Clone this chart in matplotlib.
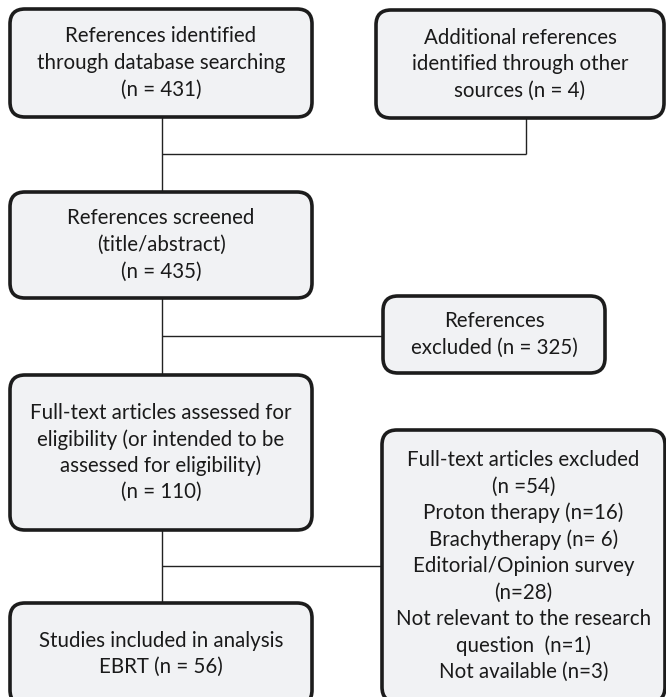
import matplotlib
matplotlib.use("Agg")
import matplotlib.pyplot as plt
from matplotlib.patches import FancyBboxPatch

W, H = 666, 697

# ---- content ----
box_texts = [
    ["References identified", "through database searching", "(n = 431)"],
    ["Additional references", "identified through other", "sources (n = 4)"],
    ["References screened", "(title/abstract)", "(n = 435)"],
    ["References", "excluded (n = 325)"],
    ["Full-text articles assessed for", "eligibility (or intended to be",
     "assessed for eligibility)", "(n = 110)"],
    ["Full-text articles excluded", "(n =54)", "Proton therapy (n=16)",
     "Brachytherapy (n= 6)", "Editorial/Opinion survey", "(n=28)",
     "Not relevant to the research", "question  (n=1)", "Not available (n=3)"],
    ["Studies included in analysis", "EBRT (n = 56)"],
]

# ---- layout (pixel units, y downward): x0, y0, x1, y1 ----
box_geom = [
    (10, 9, 312, 117),
    (376, 10, 664, 118),
    (10, 192, 312, 298),
    (383, 296, 605, 373),
    (10, 375, 312, 530),
    (382, 430, 665, 702),
    (10, 603, 312, 705),
]

fig = plt.figure(figsize=(W / 100, H / 100), dpi=100)
ax = fig.add_axes([0, 0, 1, 1])
ax.set_xlim(0, W)
ax.set_ylim(H, 0)
ax.axis("off")

FONT = "Lato"
FS = 14.8
LS = 26.5
line_kw = dict(color="#222222", lw=1.0, zorder=1, solid_capstyle="butt")

# connectors
cx = 161.5
ax.plot([cx, cx], [117, 192], **line_kw)
ax.plot([526, 526], [118, 154], **line_kw)
ax.plot([cx, 526], [154, 154], **line_kw)
ax.plot([cx, cx], [298, 375], **line_kw)
ax.plot([cx, 383], [336, 336], **line_kw)
ax.plot([cx, cx], [530, 603], **line_kw)
ax.plot([cx, 382], [566, 566], **line_kw)

for (x0, y0, x1, y1), lines in zip(box_geom, box_texts):
    p = FancyBboxPatch((x0, y0), x1 - x0, y1 - y0,
                       boxstyle="round,pad=0,rounding_size=15",
                       facecolor="#f1f2f4", edgecolor="#1c1c1c",
                       linewidth=2.6, zorder=2)
    ax.add_patch(p)
    xc = (x0 + x1) / 2
    yc = (y0 + y1) / 2
    n = len(lines)
    for i, t in enumerate(lines):
        y = yc + (i - (n - 1) / 2) * LS
        ax.text(xc, y, t, ha="center", va="center", fontsize=FS,
                family=FONT, color="#1a1a1a", zorder=3)

fig.savefig("out.png", dpi=100)
